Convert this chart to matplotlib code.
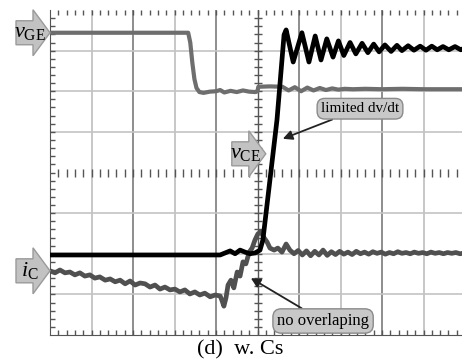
import numpy as np
import matplotlib
matplotlib.use('Agg')
import matplotlib.pyplot as plt
from matplotlib.patches import Polygon

plt.rcParams['font.family'] = 'serif'
plt.rcParams['font.serif'] = ['Liberation Serif', 'DejaVu Serif']
plt.rcParams['mathtext.fontset'] = 'custom'
plt.rcParams['mathtext.rm'] = 'Liberation Serif'
plt.rcParams['mathtext.it'] = 'Liberation Serif:italic'

# scope traces, time and amplitude in screen divisions (10 x 8)
vge_t = [0, 3.33, 3.38, 3.43, 3.48, 3.53, 3.60, 3.70, 3.85, 4.0, 4.1, 4.2, 4.35, 4.5, 4.65, 4.8, 4.95,
         5.0, 5.02, 5.3, 5.6, 5.75, 5.9, 6.05, 6.2, 6.35, 6.5, 6.65, 6.8, 6.95, 7.1, 7.3, 7.6, 8.0, 8.5,
         9.0, 9.5, 10]
vge_y = [7.44, 7.44, 7.2, 6.7, 6.3, 6.08, 5.98, 5.96, 5.99, 6.0, 6.03, 5.97, 6.01, 5.98, 6.02, 5.99, 5.98,
         6.0, 6.11, 6.12, 6.11, 6.02, 6.1, 6.0, 6.09, 6.02, 6.08, 6.03, 6.07, 6.04, 6.06, 6.05, 6.06, 6.05, 6.06,
         6.05, 6.05, 6.05]

vce_t = [0, 4.10, 4.22, 4.34, 4.46, 4.58, 4.70, 4.82, 4.94, 5.06, 5.13, 5.30, 5.47, 5.57, 5.64,
         5.69, 5.86, 6.07, 6.24, 6.39, 6.53, 6.67, 6.82, 6.95, 7.08, 7.23, 7.37, 7.52, 7.66, 7.80, 7.93,
         8.07, 8.22, 8.36, 8.48, 8.63, 8.77, 8.92, 9.06, 9.20, 9.33, 9.47, 9.61, 9.76, 9.90, 10.0]
vce_y = [1.97, 1.97, 2.02, 2.07, 2.0, 2.09, 2.04, 2.0, 2.02, 2.09, 2.34, 3.82, 5.30, 6.53, 7.39,
         7.51, 6.72, 7.44, 6.72, 7.36, 6.77, 7.29, 6.84, 7.24, 6.88, 7.20, 6.92, 7.18, 6.95, 7.16, 6.97,
         7.14, 6.98, 7.13, 7.0, 7.12, 7.01, 7.11, 7.01, 7.11, 7.02, 7.10, 7.02, 7.10, 7.02, 7.07]

ic_t = [0, .12, .24, .36, .48, .60, .72, .84, .96, 1.08, 1.20, 1.33, 1.45, 1.57, 1.69, 1.81, 1.93,
        2.05, 2.17, 2.29, 2.41, 2.53, 2.65, 2.77, 2.89, 3.01, 3.13, 3.25, 3.37, 3.49, 3.61, 3.73, 3.86,
        3.98, 4.10, 4.14, 4.19, 4.24, 4.29, 4.36, 4.43, 4.51, 4.58, 4.65, 4.72, 4.80, 4.87, 4.94, 5.01,
        5.08, 5.16, 5.23, 5.30, 5.40, 5.49, 5.59, 5.69, 5.78, 5.88, 5.98, 6.08, 6.18, 6.28, 6.38, 6.48,
        6.58, 6.68, 6.78, 6.88, 6.98, 7.08, 7.18, 7.28, 7.38, 7.48, 7.58, 7.68, 7.78, 7.88, 7.98, 8.08,
        8.18, 8.28, 8.38, 8.48, 8.58, 8.68, 8.78, 8.88, 8.98, 9.08, 9.18, 9.28, 9.38, 9.48, 9.58, 9.68,
        9.78, 9.88, 10.0]
ic_y = [1.58, 1.53, 1.60, 1.53, 1.55, 1.48, 1.53, 1.45, 1.48, 1.40, 1.43, 1.35, 1.38, 1.31, 1.35, 1.26, 1.33,
        1.23, 1.28, 1.26, 1.18, 1.23, 1.13, 1.18, 1.11, 1.13, 1.06, 1.11, 1.01, 1.06, 0.985, 1.03, 0.94,
        0.985, 0.96, 0.86, 0.71, 0.91, 1.23, 1.35, 1.16, 1.55, 1.45, 1.80, 1.75, 2.04, 2.14, 2.34, 2.49,
        2.54, 2.39, 2.29, 2.14, 2.09, 2.14, 2.04, 2.24, 2.09, 2.0, 2.08, 1.97, 2.07, 1.95, 2.06, 1.97,
        2.09, 1.96, 2.05, 1.98, 2.06, 1.99, 2.04, 1.98, 2.06, 2.0, 2.04, 1.99, 2.05, 2.01, 2.04, 1.99,
        2.03, 2.0, 2.05, 2.01, 2.03, 2.0, 2.04, 2.01, 2.03, 2.0, 2.04, 2.01, 2.03, 2.0, 2.03, 2.01,
        2.03, 2.0, 2.02]

grid_x = [1, 2, 3, 4, 6, 7, 8, 9]
grid_y = [1, 2, 3, 5, 6, 7]

fig = plt.figure(figsize=(4.62, 3.61), dpi=100)
ax = fig.add_axes([50 / 462, 26 / 361, 415 / 462, 325 / 361])
ax.set_xlim(0, 10)
ax.set_ylim(0, 8)
ax.set_facecolor('white')

# graticule
for gx in grid_x:
    ax.axvline(gx, color='#bdbdbd' if gx % 2 else '#7a7a7a', lw=1.2, zorder=1)
for gy in grid_y:
    ax.axhline(gy, color='#c4c4c4', lw=1.2, zorder=1)
ax.axvline(5, color='#555555', lw=1.0, zorder=1)

fine = np.arange(0.2, 10, 0.2)
fine_y = np.arange(0.2, 8, 0.2)
ax.plot(fine, np.full(len(fine), 4.0), ls='none', marker='|', ms=6, mew=1.0, color='#555555', zorder=1)
ax.plot(np.full(len(fine_y), 5.0), fine_y, ls='none', marker='_', ms=6, mew=1.0, color='#555555', zorder=1)

ax.set_xticks([])
ax.set_yticks([])
ax.set_xticks(fine, minor=True)
ax.set_yticks(fine_y, minor=True)
ax.tick_params(which='minor', direction='in', length=3.5, width=1.0, color='#555555',
               top=True, bottom=True, left=True, right=False,
               labelbottom=False, labelleft=False)
ax.spines['top'].set_visible(False)
ax.spines['right'].set_visible(False)
ax.spines['left'].set_color('#555555')
ax.spines['bottom'].set_color('#555555')

# traces
ax.plot(vge_t, vge_y, color='#6e6e6e', lw=3.0, solid_joinstyle='round', zorder=3)
ax.plot(ic_t, ic_y, color='#505050', lw=3.4, solid_joinstyle='round', zorder=4)
ax.plot(vce_t, vce_y, color='black', lw=3.4, solid_joinstyle='round', zorder=5)

# annotations
box = dict(boxstyle='round,pad=0.25,rounding_size=0.5', fc='#c8c8c8', ec='#8a8a8a', lw=1)
arr = dict(arrowstyle='-|>', color='#222222', lw=1.3, mutation_scale=14, shrinkA=0, shrinkB=0)
ax.annotate('limited dv/dt', xy=(5.61, 4.83), xytext=(7.47, 5.57), fontsize=11,
            family='Liberation Serif', ha='center', va='center', bbox=box, arrowprops=arr, zorder=6)
ax.annotate('no overlaping', xy=(4.84, 1.40), xytext=(6.58, 0.345), fontsize=12,
            family='Liberation Serif', ha='center', va='center', bbox=box, arrowprops=arr, zorder=6)

fig.canvas.draw()


def channel_marker(tip, label):
    tx, ty = ax.transData.transform(tip)
    pts = [(tx, ty), (tx - 17, ty + 23), (tx - 17, ty + 12), (tx - 34, ty + 12),
           (tx - 34, ty - 12), (tx - 17, ty - 12), (tx - 17, ty - 23)]
    fig.patches.append(Polygon(pts, closed=True, transform=None, fc='#c2c2c2', ec='#9a9a9a',
                               lw=1, zorder=7))
    fig.text((tx - 20) / 462, ty / 361, label, fontsize=16, ha='center', va='center', zorder=8)


channel_marker((0, 7.44), r'$v_{\rm GE}$')
channel_marker((5.2, 4.46), r'$v_{\rm CE}$')
channel_marker((0, 1.58), r'$i_{\rm C}$')

fig.text(240 / 462, 1 - 350 / 361, '(d)  w. Cs', fontsize=16, family='Liberation Serif',
         ha='center', va='center')

fig.savefig('out.png', dpi=100)
